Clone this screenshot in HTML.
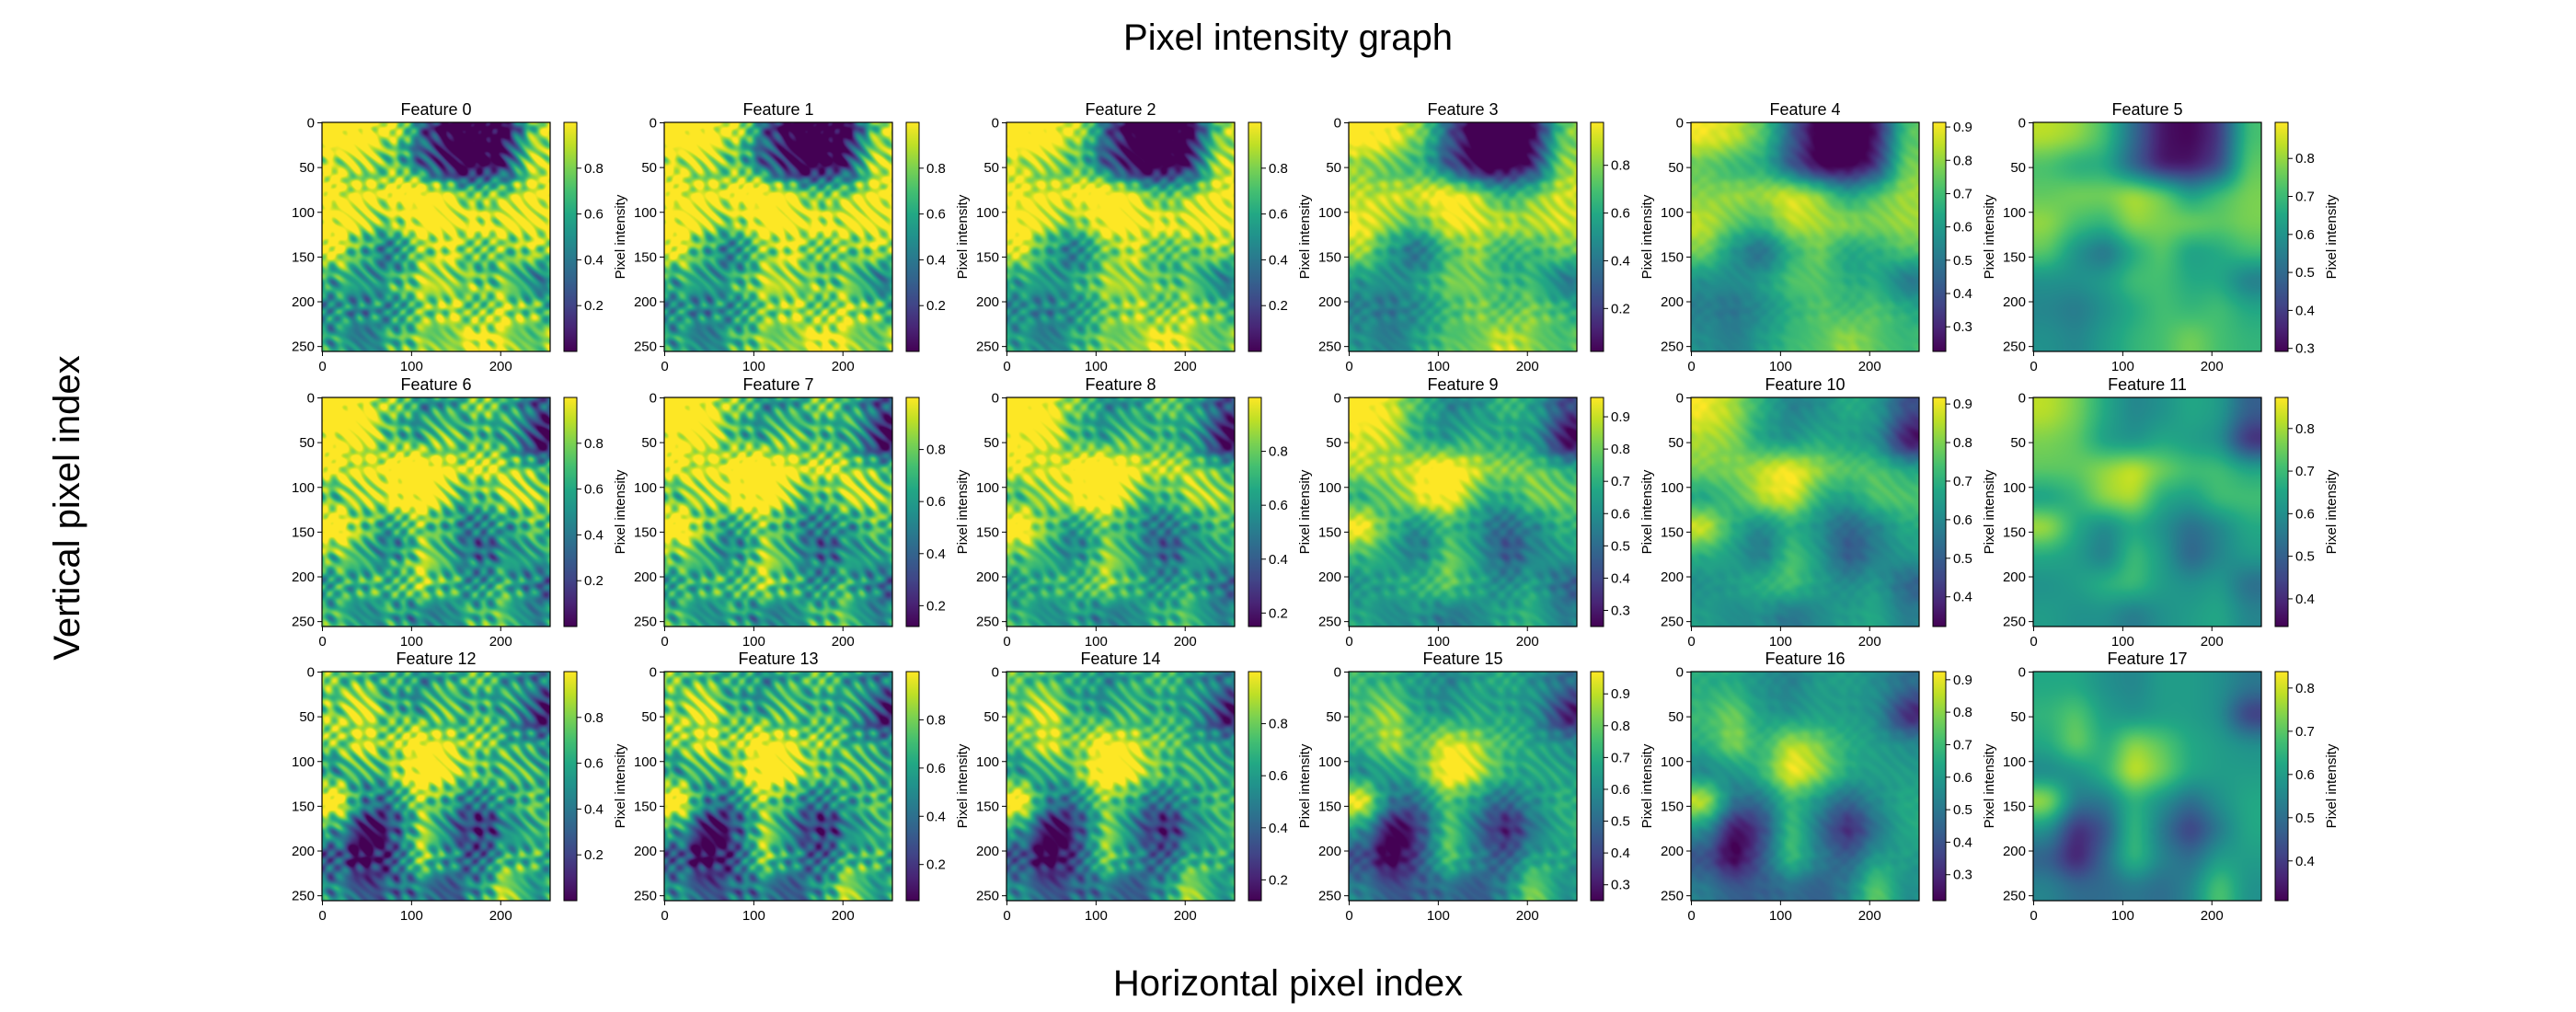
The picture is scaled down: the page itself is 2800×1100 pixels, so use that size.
<!DOCTYPE html>
<html><head><meta charset="utf-8">
<style>
html,body{margin:0;padding:0;background:#fff;}
#root{position:relative;width:2800px;height:1100px;overflow:hidden;font-family:"Liberation Sans",sans-serif;}
canvas{position:absolute;}
svg{position:absolute;left:0;top:0;}
</style></head>
<body>
<div id="root">
<svg id="svg" width="2800" height="1100">
<text x="1400" y="54" font-size="40" text-anchor="middle">Pixel intensity graph</text>
<text x="1400" y="1082" font-size="40" text-anchor="middle">Horizontal pixel index</text>
<text x="86" y="552" font-size="40" text-anchor="middle" transform="rotate(-90 86 552)">Vertical pixel index</text>
</svg>
</div>
<script>
const grid0 = [
[0.9,0.85,0.7,0.35,0.05,0.0,0.15,0.7],
[0.7,0.6,0.6,0.3,0.05,0.05,0.2,0.75],
[0.75,0.8,0.8,0.9,0.8,0.55,0.7,0.8],
[0.85,0.7,0.65,0.85,0.8,0.8,0.75,0.8],
[0.75,0.5,0.35,0.6,0.75,0.55,0.6,0.7],
[0.5,0.5,0.55,0.7,0.7,0.6,0.6,0.4],
[0.45,0.4,0.5,0.6,0.7,0.65,0.7,0.6],
[0.5,0.45,0.55,0.65,0.7,0.8,0.7,0.65]];
const grid1 = [
[0.9,0.8,0.6,0.45,0.5,0.6,0.55,0.3],
[0.8,0.75,0.55,0.5,0.6,0.55,0.5,0.1],
[0.75,0.75,0.85,0.95,0.8,0.7,0.7,0.6],
[0.55,0.65,0.85,0.9,0.6,0.55,0.7,0.7],
[0.9,0.6,0.45,0.6,0.5,0.35,0.45,0.6],
[0.6,0.55,0.4,0.7,0.55,0.3,0.45,0.55],
[0.5,0.55,0.65,0.7,0.55,0.5,0.55,0.35],
[0.55,0.5,0.5,0.4,0.5,0.55,0.6,0.45]];
const grid2 = [
[0.6,0.6,0.5,0.45,0.55,0.55,0.5,0.4],
[0.65,0.75,0.55,0.5,0.55,0.55,0.5,0.15],
[0.6,0.8,0.6,0.85,0.75,0.6,0.55,0.5],
[0.45,0.5,0.65,0.95,0.8,0.6,0.55,0.55],
[0.9,0.4,0.4,0.65,0.5,0.35,0.5,0.6],
[0.5,0.1,0.25,0.7,0.4,0.15,0.4,0.6],
[0.3,0.05,0.35,0.7,0.45,0.35,0.55,0.55],
[0.45,0.35,0.35,0.4,0.35,0.45,0.75,0.5]];
const grids = [grid0, grid1, grid2];
const cbMin = [0,0,0,0.02,0.226,0.292, 0,0.12,0.15,0.25,0.323,0.335, 0,0.05,0.12,0.25,0.22,0.308];
const cbMax = [1,1,1,0.98,0.914,0.895, 1,1,1,0.96,0.917,0.873, 1,1,1,0.97,0.925,0.838];
const cbTicks = [
[0.2,0.4,0.6,0.8],[0.2,0.4,0.6,0.8],[0.2,0.4,0.6,0.8],[0.2,0.4,0.6,0.8],[0.3,0.4,0.5,0.6,0.7,0.8,0.9],[0.3,0.4,0.5,0.6,0.7,0.8],
[0.2,0.4,0.6,0.8],[0.2,0.4,0.6,0.8],[0.2,0.4,0.6,0.8],[0.3,0.4,0.5,0.6,0.7,0.8,0.9],[0.4,0.5,0.6,0.7,0.8,0.9],[0.4,0.5,0.6,0.7,0.8],
[0.2,0.4,0.6,0.8],[0.2,0.4,0.6,0.8],[0.2,0.4,0.6,0.8],[0.3,0.4,0.5,0.6,0.7,0.8,0.9],[0.3,0.4,0.5,0.6,0.7,0.8,0.9],[0.4,0.5,0.6,0.7,0.8]];
const xTicks = [0,100,200];
const yTicks = [0,50,100,150,200,250];
const contrast = [1.6,1.6,1.6,1.45,1.25,1.0];
const detail = [0.9,0.85,0.6,0.3,0.1,0];
const bias = [0.1,0.1,0.08,0.03,0,0];

const VIR=[[68,1,84],[72,36,117],[65,68,135],[53,95,141],[42,120,142],[33,145,140],[34,168,132],[68,191,112],[122,209,81],[189,223,38],[253,231,37]];
function vir(t){t=Math.max(0,Math.min(1,t));const f=t*10,i=Math.min(9,Math.floor(f)),u=f-i;const a=VIR[i],b=VIR[i+1];return [a[0]+(b[0]-a[0])*u,a[1]+(b[1]-a[1])*u,a[2]+(b[2]-a[2])*u];}
function sample(g,x,y){
  let gx=x/32-0.5, gy=y/32-0.5;
  gx=Math.max(0,Math.min(7,gx)); gy=Math.max(0,Math.min(7,gy));
  const i=Math.min(6,Math.floor(gx)), j=Math.min(6,Math.floor(gy));
  const u=gx-i, v=gy-j;
  const a=g[j][i],b=g[j][i+1],c=g[j+1][i],d=g[j+1][i+1];
  return a*(1-u)*(1-v)+b*u*(1-v)+c*(1-u)*v+d*u*v;
}
function blur(F,r){const N=256,T=new Float32Array(N*N),O=new Float32Array(N*N);
  for(let y=0;y<N;y++)for(let x=0;x<N;x++){let s=0,n=0;for(let k=-r;k<=r;k++){const xx=Math.max(0,Math.min(N-1,x+k));s+=F[y*N+xx];n++;}T[y*N+x]=s/n;}
  for(let y=0;y<N;y++)for(let x=0;x<N;x++){let s=0,n=0;for(let k=-r;k<=r;k++){const yy=Math.max(0,Math.min(N-1,y+k));s+=T[yy*N+x];n++;}O[y*N+x]=s/n;}
  return O;}
const fields = grids.map(g=>{let F=new Float32Array(256*256);for(let y=0;y<256;y++)for(let x=0;x<256;x++)F[y*256+x]=sample(g,x,y);F=blur(F,8);F=blur(F,8);return F;});
const X0=350, DX=372, Y0=133, DY=298.5, W=248, H=249;
const root=document.getElementById('root'), svg=document.getElementById('svg');
const NS='http://www.w3.org/2000/svg';
function el(tag,attrs,parent,txt){const e=document.createElementNS(NS,tag);for(const k in attrs)e.setAttribute(k,attrs[k]);if(txt!==undefined)e.textContent=txt;(parent||svg).appendChild(e);return e;}
for(let r=0;r<3;r++){for(let c=0;c<6;c++){
  const f=r*6+c, x=X0+c*DX, y=Math.round(Y0+r*DY);
  const F=fields[r];
  const cv=document.createElement('canvas');
  cv.width=256;cv.height=256;cv.style.left=x+'px';cv.style.top=y+'px';cv.style.width=W+'px';cv.style.height=H+'px';
  
  
  root.insertBefore(cv,svg);
  const ctx=cv.getContext('2d'),img=ctx.createImageData(256,256);
  for(let py=0;py<256;py++)for(let px=0;px<256;px++){
    let v=F[py*256+px];
    v=0.55+contrast[c]*(v-0.55)+bias[c];
    const tex=Math.sin(px*0.21+Math.sin(py*0.09)*3)*Math.sin(py*0.19+Math.sin(px*0.07)*3)+0.4*Math.sin((px-py)*0.35);
    v+=detail[c]*0.22*tex;
    const col=vir(v),k=(py*256+px)*4;
    img.data[k]=col[0];img.data[k+1]=col[1];img.data[k+2]=col[2];img.data[k+3]=255;
  }
  ctx.putImageData(img,0,0);
  const grp=el('g',{});
  el('rect',{x:x,y:y,width:W,height:H,fill:'none',stroke:'#000','stroke-width':1.2},grp);
  el('text',{x:x+W/2,y:y-8,'font-size':18,'text-anchor':'middle',},grp,'Feature '+f);
  xTicks.forEach(t=>{const tx=x+(t+0.5)/256*W;
    el('line',{x1:tx,x2:tx,y1:y+H,y2:y+H+5,stroke:'#000'},grp);
    el('text',{x:tx,y:y+H+21,'font-size':15,'text-anchor':'middle'},grp,String(t));});
  yTicks.forEach(t=>{const ty=y+(t+0.5)/256*H;
    el('line',{x1:x-5,x2:x,y1:ty,y2:ty,stroke:'#000'},grp);
    el('text',{x:x-8,y:ty+5,'font-size':15,'text-anchor':'end'},grp,String(t));});
  const cx=x+263,cw=14;
  const gid='cbg'+f;
  const lg=el('linearGradient',{id:gid,x1:0,y1:1,x2:0,y2:0},grp);
  for(let s=0;s<=10;s++){const cc=VIR[s];el('stop',{offset:s/10,'stop-color':`rgb(${cc[0]},${cc[1]},${cc[2]})`},lg);}
  el('rect',{x:cx,y:y,width:cw,height:H,fill:`url(#${gid})`,stroke:'#000','stroke-width':1,},grp);
  cbTicks[f].forEach(t=>{const ty=y+H-(t-cbMin[f])/(cbMax[f]-cbMin[f])*H;
    el('line',{x1:cx+cw,x2:cx+cw+5,y1:ty,y2:ty,stroke:'#000'},grp);
    el('text',{x:cx+cw+8,y:ty+5,'font-size':15},grp,t.toFixed(1));});
  const lx=cx+cw+52, ly=y+H/2;
  el('text',{x:lx,y:ly,'font-size':15,'text-anchor':'middle',transform:`rotate(-90 ${lx} ${ly})`,},grp,'Pixel intensity');
}}
</script>
</body></html>
